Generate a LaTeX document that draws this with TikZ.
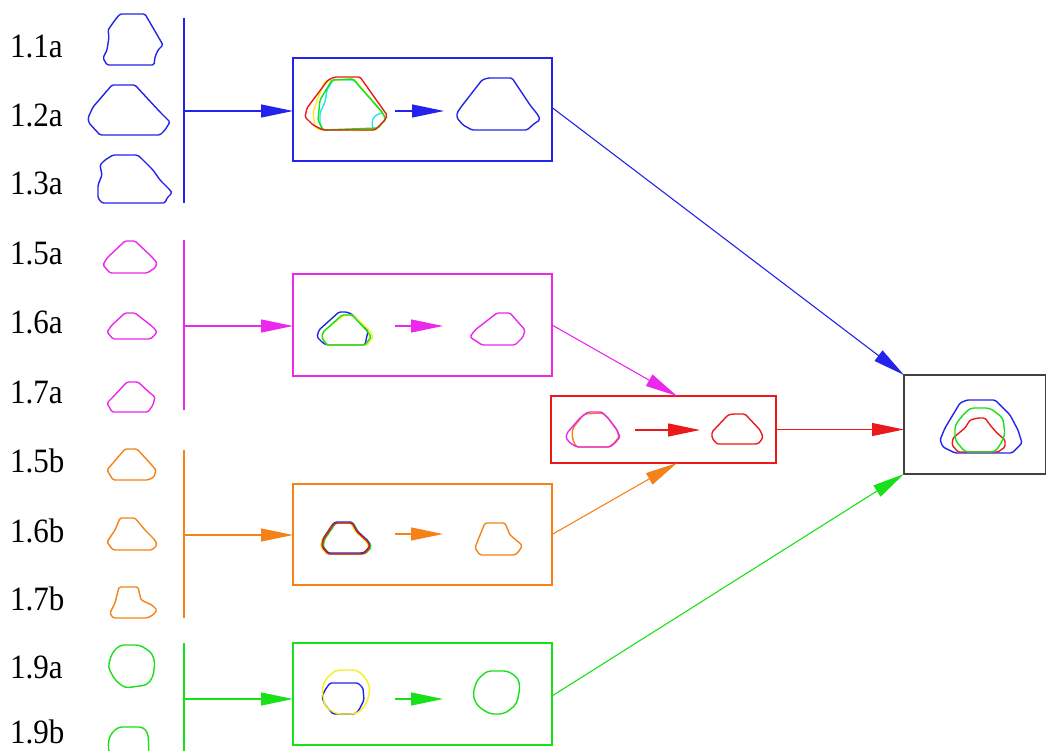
\documentclass[tikz,border=0pt]{standalone}
\usepackage{fontspec}
\setmainfont{Liberation Serif}
\usetikzlibrary{arrows.meta}
\definecolor{cblue}{RGB}{35,35,235}
\definecolor{cmag}{RGB}{235,40,235}
\definecolor{corange}{RGB}{245,130,25}
\definecolor{cgreen}{RGB}{25,225,25}
\definecolor{cred}{RGB}{235,25,25}
\definecolor{cyel}{RGB}{245,240,30}
\definecolor{ccyan}{RGB}{30,230,230}
% outlines reused with small offsets
\newcommand\ovlOrange{(335,523)--(352,523)--(357,532)--(368,542)--(370,547)--(365,553)--(362,554)--(328,554)--(322,547)--(323,540)--(333,525)--cycle}
\newcommand\ovlMag{(588,412)--(602,412)--(608,418)--(617,430)--(620,437)--(615,443)--(610,447)--(577,447)--(570,443)--(566,438)--(567,433)--(580,418)--cycle}
\begin{document}
\begin{tikzpicture}[x=1pt,y=-1pt,
  lbl/.style={anchor=base west,inner sep=0,font=\fontsize{31}{34}\selectfont},
  panel/.style={draw,line width=1.1pt,inner sep=0,outer sep=0},
  bar/.style={line width=1.1pt},
  conn/.style={line width=1.1pt,-{Triangle[length=32pt,width=13pt]}},
  outl/.style={line width=1.4pt,rounded corners=1.5pt,line join=round},
  roundish/.style={outl,rounded corners=4pt}]
\useasboundingbox (0,0) rectangle (1046,751);

% ---- sample labels (slightly tall type) ----
\node[lbl] (l11a) at (10,58)  {\scalebox{1}[1.1]{1.1a}};
\node[lbl] (l12a) at (10,127) {\scalebox{1}[1.1]{1.2a}};
\node[lbl] (l13a) at (10,195) {\scalebox{1}[1.1]{1.3a}};
\node[lbl] (l15a) at (10,265) {\scalebox{1}[1.1]{1.5a}};
\node[lbl] (l16a) at (10,333) {\scalebox{1}[1.1]{1.6a}};
\node[lbl] (l17a) at (10,403) {\scalebox{1}[1.1]{1.7a}};
\node[lbl] (l15b) at (10,472) {\scalebox{1}[1.1]{1.5b}};
\node[lbl] (l16b) at (10,542) {\scalebox{1}[1.1]{1.6b}};
\node[lbl] (l17b) at (10,610) {\scalebox{1}[1.1]{1.7b}};
\node[lbl] (l19a) at (10,678) {\scalebox{1}[1.1]{1.9a}};
\node[lbl] (l19b) at (10,743) {\scalebox{1}[1.1]{1.9b}};

% ---- single profiles ----
\draw[outl,cblue] (120,14)--(145,14)--(163,45)--(158,50)--(155,57)--(154,65)--(107,65)--(103,58)--(107,50)--(109,37)--(108,30)--(115,20)--cycle;
\draw[outl,cblue] (112,85)--(135,85)--(160,112)--(170,122)--(165,130)--(160,135)--(100,135)--(89,123)--(88,118)--(93,107)--cycle;
\draw[outl,cblue] (113,155)--(137,155)--(140,157)--(153,170)--(160,180)--(170,190)--(172,193)--(167,198)--(165,203)--(102,203)--(98,198)--(98,185)--(102,175)--(100,165)--(105,160)--cycle;
\draw[outl,cmag] (125,241)--(135,241)--(152,257)--(157,263)--(155,268)--(147,273)--(110,273)--(103,265)--(107,258)--cycle;
\draw[outl,cmag] (125,313)--(135,313)--(153,327)--(157,332)--(153,337)--(150,339)--(113,339)--(107,332)--(112,325)--cycle;
\draw[outl,cmag] (127,382)--(138,382)--(150,393)--(155,397)--(153,405)--(148,412)--(112,412)--(107,403)--(113,397)--cycle;
\draw[outl,corange] (125,449)--(137,449)--(150,463)--(156,470)--(154,477)--(148,480)--(113,480)--(107,470)--(113,463)--cycle;
\draw[outl,corange] (120,518)--(135,518)--(145,530)--(155,540)--(157,545)--(152,550)--(113,550)--(107,542)--(115,530)--(118,523)--cycle;
\draw[outl,corange] (119,587)--(138,587)--(141,600)--(152,605)--(157,610)--(153,615)--(147,618)--(113,618)--(110,613)--(115,603)--cycle;
\draw[roundish,cgreen] (120,645)--(140,645)--(152,653)--(155,663)--(153,677)--(147,685)--(125,688)--(115,680)--(108,667)--(112,653)--cycle;
\draw[roundish,cgreen] (118,727)--(143,727)--(148,733)--(149,752)--(148,758)--(110,758)--(108,745)--(110,735)--cycle;

% ---- grouping bars ----
\coordinate (bT) at (184,18);  \coordinate (bB) at (184,203); \coordinate (bJ) at (184,111);
\coordinate (mT) at (184,240); \coordinate (mB) at (184,410); \coordinate (mJ) at (184,326);
\coordinate (oT) at (184,450); \coordinate (oB) at (184,618); \coordinate (oJ) at (184,535);
\coordinate (gT) at (184,643); \coordinate (gB) at (184,760); \coordinate (gJ) at (184,699);
\draw[bar,cblue] (bT) -- (bB);
\draw[bar,cmag] (mT) -- (mB);
\draw[bar,corange] (oT) -- (oB);
\draw[bar,cgreen] (gT) -- (gB);

% ---- panels ----
\node[panel,draw=cblue,minimum width=259pt,minimum height=103pt] (pB) at (422.5,109.5) {};
\node[panel,draw=cmag,minimum width=259pt,minimum height=102pt] (pM) at (422.5,325) {};
\node[panel,draw=cred,minimum width=225pt,minimum height=67pt] (pR) at (663.5,429.5) {};
\node[panel,draw=corange,minimum width=259pt,minimum height=101pt] (pO) at (422.5,534.5) {};
\node[panel,draw=cgreen,minimum width=259pt,minimum height=102pt] (pG) at (422.5,694) {};
\node[panel,draw=black!75,minimum width=142pt,minimum height=99pt] (pF) at (975,424.5) {};

% ---- bars into panels ----
\draw[conn,cblue] (bJ) -- (bJ -| pB.west);
\draw[conn,cmag] (mJ) -- (mJ -| pM.west);
\draw[conn,corange] (oJ) -- (oJ -| pO.west);
\draw[conn,cgreen] (gJ) -- (gJ -| pG.west);

% ---- blue panel contents ----
\draw[outl,ccyan] (333,80)--(354,80)--(383,113)--(378,114)--(373,118)--(372,124)--(373,130)--(323,130)--(320,125)--(320,113)--(325,102)--(327,90)--cycle;
\draw[outl,cyel] (325,81)--(354,79)--(384,115)--(385,120)--(378,128)--(375,130)--(320,130)--(315,127)--(313,113)--(317,100)--cycle;
\draw[outl,cgreen] (332,80)--(353,79)--(382,112)--(386,119)--(378,128)--(323,130)--(318,120)--(320,100)--cycle;
\draw[outl,cred] (328,80)--(335,77)--(360,77)--(387,115)--(385,120)--(375,130)--(323,130)--(313,125)--(305,117)--(307,108)--(313,100)--cycle;
\coordinate (aB1) at (395,111); \coordinate (aB2) at (444,111);
\draw[conn,cblue] (aB1) -- (aB2);
\draw[outl,cblue] (482,80)--(488,78)--(512,78)--(530,105)--(538,115)--(540,120)--(535,123)--(527,130)--(472,130)--(463,125)--(457,118)--(457,113)--(461,107)--cycle;

% ---- magenta panel contents ----
\draw[outl,cblue] (339,312)--(347,312)--(353,315)--(368,331)--(365,345)--(327,345)--(323,343)--(317,337)--(319,330)--cycle;
\draw[outl,cyel] (344,315)--(353,315)--(370,331)--(373,337)--(367,345)--(327,345)--(322,338)--(323,332)--cycle;
\draw[outl,cgreen] (342,315)--(352,315)--(368,332)--(371,337)--(365,345)--(327,345)--(322,338)--(323,332)--cycle;
\coordinate (aM1) at (395,326); \coordinate (aM2) at (443,326);
\draw[conn,cmag] (aM1) -- (aM2);
\draw[outl,cmag] (497,313)--(510,313)--(525,330)--(523,337)--(515,345)--(482,345)--(470,337)--(475,330)--cycle;

% ---- red panel contents ----
\draw[outl,corange] (584,414)--(602,413)--(608,418)--(617,430)--(619,437)--(614,443)--(609,447)--(577,447)--(574,443)--(572,435)--(573,428)--cycle;
\draw[outl,cmag] \ovlMag;
\coordinate (aR1) at (635,430); \coordinate (aR2) at (700,430);
\draw[conn,cred] (aR1) -- (aR2);
\draw[outl,cred] (728,415)--(733,414)--(745,414)--(760,430)--(763,437)--(760,442)--(757,444)--(717,444)--(712,438)--(712,432)--cycle;

% ---- orange panel contents ----
\draw[outl,cyel,xshift=-1.2pt] \ovlOrange;
\draw[outl,cgreen,xshift=1.3pt] \ovlOrange;
\draw[outl,cblue,yshift=1pt] \ovlOrange;
\draw[outl,cred] \ovlOrange;
\coordinate (aO1) at (395,534); \coordinate (aO2) at (443,534);
\draw[conn,corange] (aO1) -- (aO2);
\draw[outl,corange] (485,523)--(505,523)--(510,535)--(522,545)--(520,550)--(515,555)--(480,555)--(475,548)--(478,540)--cycle;

% ---- green panel contents ----
\draw[outl,cblue] (330,683)--(358,683)--(363,688)--(364,700)--(359,710)--(355,714)--(333,714)--(325,705)--(322,697)--(325,690)--cycle;
\draw[roundish,cyel] (338,670)--(357,670)--(365,677)--(370,687)--(368,700)--(362,710)--(355,714)--(337,714)--(325,707)--(322,690)--(325,680)--(333,672)--cycle;
\coordinate (aG1) at (395,699); \coordinate (aG2) at (443,699);
\draw[conn,cgreen] (aG1) -- (aG2);
\draw[roundish,cgreen] (487,671)--(508,671)--(518,678)--(520,687)--(517,703)--(510,710)--(503,714)--(490,714)--(480,708)--(475,702)--(473,693)--(477,680)--cycle;

% ---- combined result ----
\draw[outl,cblue] (960,403)--(967,400)--(995,400)--(1010,415)--(1018,430)--(1022,443)--(1015,450)--(1012,453)--(955,453)--(943,447)--(940,440)--(945,428)--cycle;
\draw[outl,cred] (970,420)--(978,418)--(985,418)--(990,425)--(997,433)--(1005,440)--(1005,447)--(998,452)--(958,452)--(952,445)--(953,438)--(965,428)--cycle;
\draw[roundish,cgreen] (970,408)--(990,408)--(1003,418)--(1005,435)--(1000,445)--(995,452)--(965,452)--(955,440)--(955,425)--(963,415)--cycle;

% ---- panel-to-panel connectors ----
\coordinate (rTop) at (677,396);
\coordinate (rBot) at (677,463);
\draw[conn,cblue] ([yshift=2pt]pB.east) -- (pF.north west);
\draw[conn,cmag] (pM.east) -- (rTop);
\draw[conn,corange] (pO.east) -- (rBot);
\draw[conn,cred] (pR.east) -- (pR.east -| pF.west);
\draw[conn,cgreen] ([yshift=-2pt]pG.east) -- (pF.south west);
\end{tikzpicture}
\end{document}
